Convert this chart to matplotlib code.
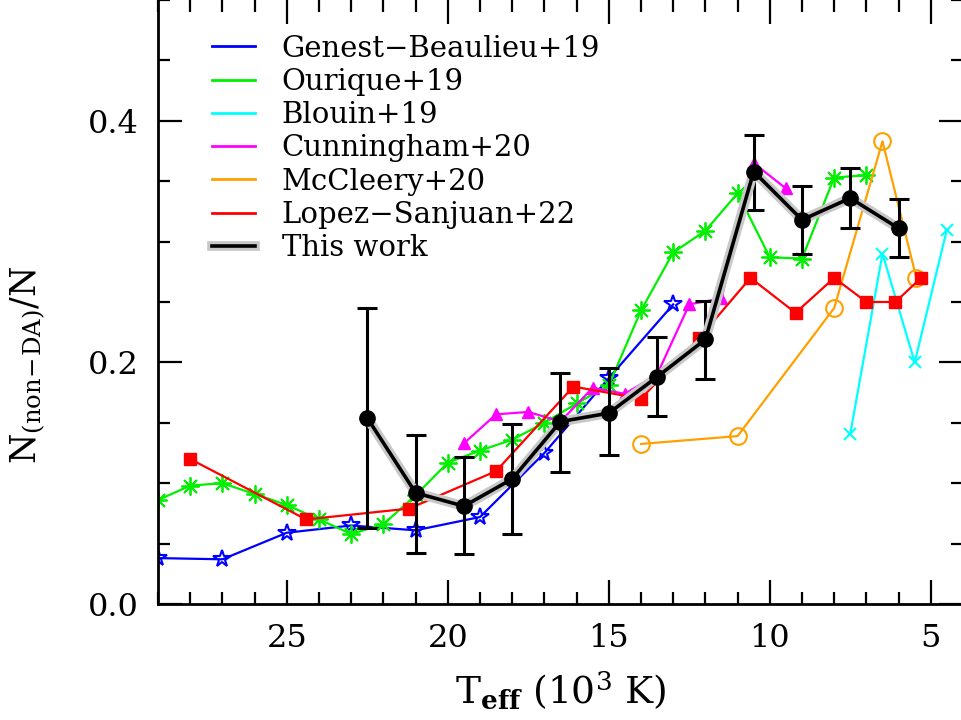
import numpy as np
import matplotlib
matplotlib.use('Agg')
import matplotlib.pyplot as plt
import matplotlib.patheffects as pe
from matplotlib.lines import Line2D
from matplotlib.ticker import MultipleLocator

plt.rcParams['font.family'] = 'DejaVu Serif'
plt.rcParams['mathtext.fontset'] = 'dejavuserif'

# Genest-Beaulieu+19
gb_t = [29, 27, 25, 23, 21, 19, 17, 15, 13]
gb_f = [0.038, 0.037, 0.059, 0.065, 0.061, 0.072, 0.125, 0.187, 0.248]

# Ourique+19
ou_t = [29, 28, 27, 26, 25, 24, 23, 22, 21, 20, 19, 18, 17, 16, 15, 14, 13, 12, 11, 10, 9, 8, 7]
ou_f = [0.086, 0.098, 0.100, 0.091, 0.082, 0.070, 0.058, 0.066, 0.090, 0.117, 0.127, 0.136,
        0.150, 0.166, 0.181, 0.243, 0.291, 0.309, 0.340, 0.287, 0.286, 0.353, 0.355]

# Blouin+19
bl_t = [7.5, 6.5, 5.5, 4.5]
bl_f = [0.141, 0.290, 0.200, 0.310]

# Cunningham+20
cu_t = [19.5, 18.5, 17.5, 16.5, 15.5, 14.5, 13.5, 12.5, 11.5, 10.5, 9.5]
cu_f = [0.133, 0.157, 0.159, 0.151, 0.179, 0.174, 0.190, 0.248, 0.253, 0.365, 0.344]

# McCleery+20
mc_t = [14, 11, 8, 6.5, 5.45]
mc_f = [0.1325, 0.139, 0.245, 0.383, 0.270]

# Lopez-Sanjuan+22
ls_t = [28.0, 24.4, 21.2, 18.5, 16.1, 14.0, 12.2, 10.6, 9.2, 8.0, 7.0, 6.1, 5.3]
ls_f = [0.120, 0.070, 0.079, 0.110, 0.180, 0.170, 0.220, 0.270, 0.241, 0.270, 0.250, 0.250, 0.270]

# This work
tw_t = [22.5, 21, 19.5, 18, 16.5, 15, 13.5, 12, 10.5, 9, 7.5, 6]
tw_f = [0.154, 0.092, 0.081, 0.1035, 0.151, 0.158, 0.188, 0.219, 0.358, 0.318, 0.336, 0.311]
tw_hi = [0.245, 0.140, 0.122, 0.149, 0.191, 0.195, 0.221, 0.251, 0.388, 0.346, 0.361, 0.335]
tw_lo = [0.063, 0.042, 0.041, 0.058, 0.109, 0.123, 0.156, 0.186, 0.326, 0.290, 0.311, 0.287]

fig = plt.figure(figsize=(9.62, 7.2), dpi=100)
ax = fig.add_axes([158/962, 116/720, 805/962, 604/720])

lw = 1.6
ax.plot(gb_t, gb_f, color='#0000ff', lw=lw, marker='*', ms=13, mfc='none', mew=1.5)
ax.plot(ou_t, ou_f, color='#00f000', lw=lw, marker=(8, 2, 0), ms=13, mew=1.3)
ax.plot(bl_t, bl_f, color='#00ffff', lw=lw, marker='x', ms=9, mew=1.5)
ax.plot(cu_t, cu_f, color='#ff00ff', lw=lw, marker='^', ms=9)
ax.plot(mc_t, mc_f, color='#ffa000', lw=lw, marker='o', ms=12, mfc='none', mew=1.5)
ax.plot(ls_t, ls_f, color='#ff0000', lw=lw, marker='s', ms=8)

tw_f = np.array(tw_f)
yerr = [tw_f - np.array(tw_lo), np.array(tw_hi) - tw_f]
ax.errorbar(tw_t, tw_f, yerr=yerr, fmt='none', ecolor='black', elinewidth=2.2,
            capsize=7, capthick=2.2, zorder=5)
glow = [pe.Stroke(linewidth=7, foreground='#c8c8c8'), pe.Normal()]
ax.plot(tw_t, tw_f, color='black', lw=2.6, zorder=6, path_effects=glow)
ax.plot(tw_t, tw_f, 'o', color='black', ms=11, zorder=7)

ax.set_xlim(29, 4)
ax.set_ylim(0, 0.5)
ax.xaxis.set_major_locator(MultipleLocator(5))
ax.xaxis.set_minor_locator(MultipleLocator(1))
ax.yaxis.set_major_locator(MultipleLocator(0.2))
ax.yaxis.set_minor_locator(MultipleLocator(0.05))
ax.tick_params(which='both', direction='in', top=True, right=True, width=1.6, labelsize=23)
ax.tick_params(which='major', length=17)
ax.tick_params(which='minor', length=8.5)
ax.tick_params(axis='x', pad=14)
ax.tick_params(axis='y', pad=14)
ax.set_yticks([0.0, 0.2, 0.4])
ax.set_yticklabels(['0.0', '0.2', '0.4'])
for s in ['left', 'bottom']:
    ax.spines[s].set_linewidth(2)
ax.spines['top'].set_visible(False)
ax.spines['right'].set_visible(False)

ax.set_xlabel(r'T$_{\mathbf{eff}}$ (10$^3$ K)', fontsize=27)
ax.xaxis.set_label_coords(0.5, -0.11)
fig.text(28/962, 1 - 365/720, r'N$_{\rm (non\!-\!DA)}$/N', fontsize=25, rotation=90,
         ha='center', va='center')

names = ['Genest\u2212Beaulieu+19', 'Ourique+19', 'Blouin+19', 'Cunningham+20',
         'McCleery+20', 'Lopez\u2212Sanjuan+22', 'This work']
cols = ['#0000ff', '#00f000', '#00ffff', '#ff00ff', '#ffa000', '#ff0000', 'black']
handles = []
for c in cols[:-1]:
    handles.append(Line2D([], [], color=c, lw=2))
handles.append(Line2D([], [], color='black', lw=2.6, path_effects=glow))
ax.legend(handles, names, loc='upper left', bbox_to_anchor=(0.052, 0.962), frameon=False,
          fontsize=21, handlelength=1.5, handletextpad=0.9, labelspacing=0.18,
          borderaxespad=0)

fig.savefig('out.png', dpi=100)
